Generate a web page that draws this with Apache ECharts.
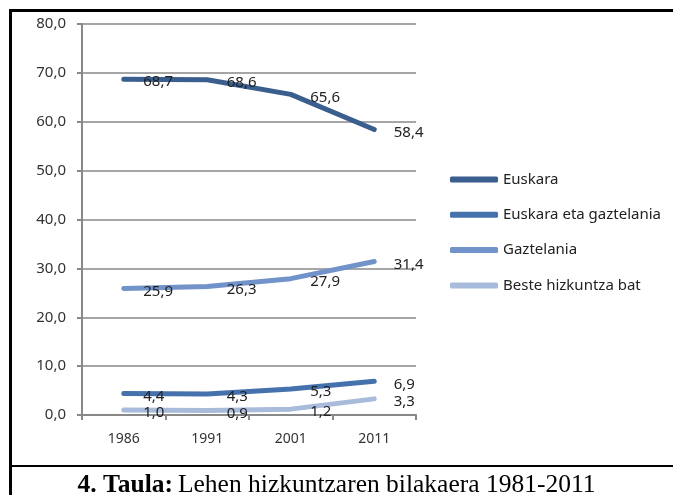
<!DOCTYPE html>
<html>
<head>
<meta charset="utf-8">
<script src="https://cdn.jsdelivr.net/npm/echarts@6/dist/echarts.min.js"></script>
<style>
  html, body { margin: 0; padding: 0; background: #fff; }
  #chart { width: 673px; height: 495px; }
</style>
</head>
<body>
<div id="chart"></div>
<script>
// Years on the x axis
const years = ['1986', '1991', '2001', '2011'];

// First language shares (%)
const euskara = [68.7, 68.6, 65.6, 58.4];
const euskaraGaztelania = [4.4, 4.3, 5.3, 6.9];
const gaztelania = [25.9, 26.3, 27.9, 31.4];
const beste = [1.0, 0.9, 1.2, 3.3];

const seriesNames = ['Euskara', 'Euskara eta gaztelania', 'Gaztelania', 'Beste hizkuntza bat'];
const seriesColors = ['#3a5f8f', '#4571ad', '#7193c9', '#a8bbdb'];
const seriesData = [euskara, euskaraGaztelania, gaztelania, beste];

const comma = v => v.toFixed(1).replace('.', ',');

const chart = echarts.init(document.getElementById('chart'));

const option = {
  animation: false,
  title: {
    text: '{b|4. Taula:} {n|Lehen hizkuntzaren bilakaera 1981-2011}',
    left: 'center',
    top: 467,
    textStyle: {
      fontWeight: 'normal',
      rich: {
        b: { fontFamily: 'Liberation Serif', fontSize: 25.5, fontWeight: 'bold', color: '#000' },
        n: { fontFamily: 'Liberation Serif', fontSize: 25.5, fontWeight: 'normal', color: '#000' }
      }
    }
  },
  legend: {
    orient: 'vertical',
    left: 445,
    top: 167,
    itemWidth: 48,
    itemHeight: 6,
    itemGap: 20.3,
    icon: 'roundRect',
    textStyle: { fontFamily: 'Noto Sans', fontSize: 15, color: '#222' },
    data: seriesNames
  },
  grid: { left: 82, right: 257, top: 24, bottom: 80 },
  xAxis: {
    type: 'category',
    data: years,
    boundaryGap: true,
    axisLine: { lineStyle: { color: '#888', width: 2 } },
    axisTick: { show: true, alignWithLabel: false, length: 5, lineStyle: { color: '#888', width: 2 } },
    axisLabel: { fontFamily: 'Noto Sans', fontSize: 14, color: '#333', margin: 17 }
  },
  yAxis: {
    type: 'value',
    min: 0,
    max: 80,
    interval: 10,
    axisLine: { show: true, lineStyle: { color: '#888', width: 2 } },
    axisTick: { show: true, length: 5, lineStyle: { color: '#888', width: 2 } },
    splitLine: { lineStyle: { color: '#888', width: 1.5 } },
    axisLabel: {
      fontFamily: 'Noto Sans', fontSize: 15, color: '#333', margin: 16,
      formatter: v => comma(v)
    }
  },
  series: seriesNames.map((name, i) => ({
    name: name,
    type: 'line',
    data: seriesData[i],
    symbol: 'circle',
    symbolSize: 1,
    itemStyle: { color: seriesColors[i] },
    lineStyle: { width: 5, color: seriesColors[i], cap: 'round', join: 'round' },
    label: {
      show: true,
      position: 'right',
      distance: 19,
      offset: [0, 3],
      fontFamily: 'Noto Sans',
      fontSize: 15,
      color: '#222',
      formatter: p => comma(p.value)
    }
  })),
  graphic: [
    { type: 'rect', shape: { x: 9, y: 9, width: 3, height: 486 }, style: { fill: '#000' } },
    { type: 'rect', shape: { x: 9, y: 9, width: 664, height: 3 }, style: { fill: '#000' } },
    { type: 'rect', shape: { x: 9, y: 465, width: 664, height: 2 }, style: { fill: '#000' } }
  ]
};

chart.setOption(option);
</script>
</body>
</html>
